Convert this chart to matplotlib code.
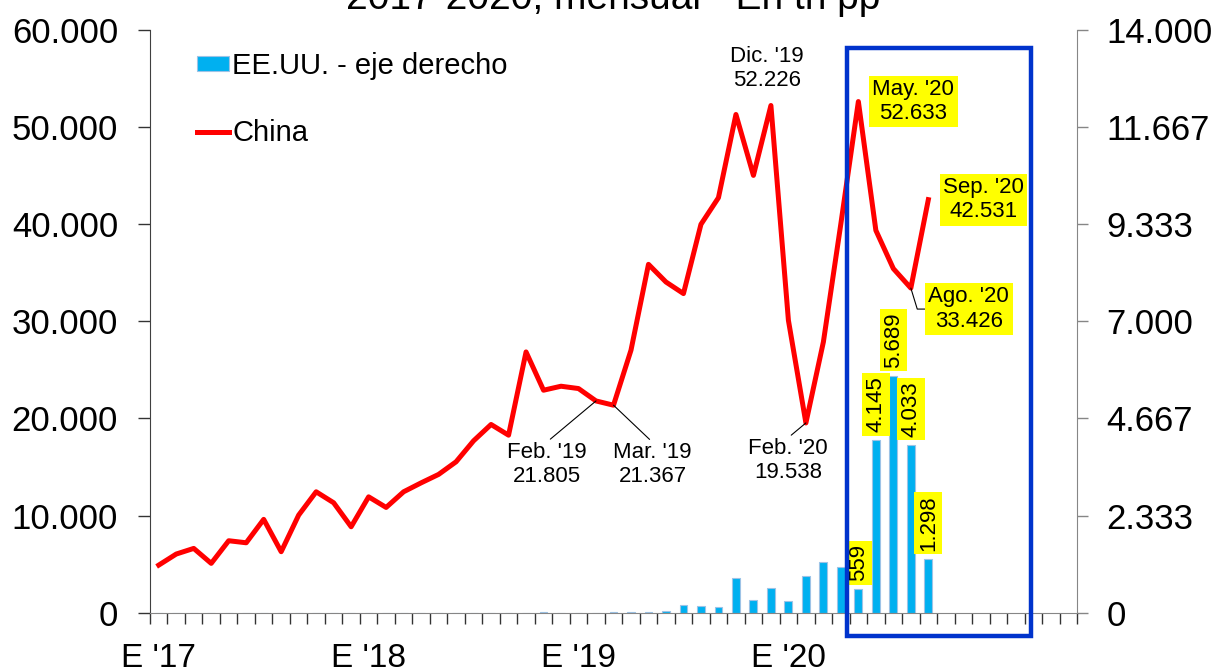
import numpy as np
import matplotlib.pyplot as plt
from matplotlib.patches import Rectangle
from matplotlib.ticker import FuncFormatter

plt.rcParams['font.family'] = ['Liberation Sans', 'DejaVu Sans']

# eje: meses de ene-2017 a may-2021, datos hasta sep-2020
n_meses = 53

# China (eje izquierdo)
china = [4900, 6040, 6620, 5080, 7410, 7200, 9610, 6280, 10050, 12450, 11320, 8850,
         11930, 10840, 12450, 13370, 14240, 15540, 17700, 19380, 18280, 26850, 22910, 23320,
         23080, 21805, 21367, 27030, 35870, 34050, 32860, 39990, 42730, 51300, 45030, 52226,
         30110, 19538, 27880, 40060, 52633, 39370, 35430, 33426, 42531]

# EE.UU. (eje derecho)
eeuu = [0, 0, 0, 0, 0, 0, 0, 0, 0, 0, 0, 0,
        0, 0, 0, 0, 0, 0, 0, 0, 0, 0, 15, 0,
        0, 0, 15, 15, 20, 45, 184, 160, 136, 833, 296, 600,
        280, 880, 1225, 1088, 559, 4145, 5689, 4033, 1298]

etiquetas_x = ["E '17", "E '18", "E '19", "E '20"]
pos_etiquetas = [0, 12, 24, 36]

# notas sobre la linea de China: mes, texto, desplazamiento (px), alineacion, caja amarilla, conector
notas_china = [
    (25, "Feb. '19\n21.805", (-49, -41), 'top', False, (0.5, 1), 'arc3'),
    (26, "Mar. '19\n21.367", (39, -37), 'top', False, (0.5, 1), 'arc3'),
    (37, "Feb. '20\n19.538", (-18, -15), 'top', False, (0.5, 1), 'arc3'),
    (35, "Dic. '19\n52.226", (-4, 14), 'bottom', False, None, None),
    (40, "May. '20\n52.633", (55, 0), 'center', True, None, None),
    (44, "Sep. '20\n42.531", (55, 0), 'center', True, None, None),
    (43, "Ago. '20\n33.426", (58, -21), 'center', True, (0, 0.5),
     'angle,angleA=0,angleB=-73,rad=0'),
]
meses_etiqueta_barra = [40, 41, 42, 43, 44]

miles = FuncFormatter(lambda v, p: f'{v:,.0f}'.replace(',', '.'))

fig = plt.figure(figsize=(12.17, 6.70), dpi=100)
ax = fig.add_axes([150 / 1217, 57.3 / 670, 927 / 1217, 582.7 / 670])
ax2 = ax.twinx()
ax.set_zorder(ax2.get_zorder() + 1)
ax.patch.set_visible(False)

x = np.arange(len(china))
barras = ax2.bar(np.arange(len(eeuu)), eeuu, width=0.45, color='#00B0F0',
                 edgecolor='#9DC3E6', linewidth=0.8, label='EE.UU. - eje derecho')
linea, = ax.plot(x, china, color='#FF0000', lw=3.6, solid_joinstyle='round',
                 label='China')

ax.set_xlim(-0.5, n_meses - 0.5)
ax.set_ylim(0, 60000)
ax2.set_ylim(0, 14000)
ax.set_yticks(np.arange(0, 60001, 10000))
ax2.set_yticks(np.linspace(0, 14000, 7))
ax.yaxis.set_major_formatter(miles)
ax2.yaxis.set_major_formatter(miles)

ax.set_xticks(pos_etiquetas)
ax.set_xticklabels(etiquetas_x)
ax.set_xticks(np.arange(-0.5, n_meses, 1), minor=True)
ax.tick_params(axis='x', which='major', length=0, pad=22, labelsize=24)
ax.tick_params(axis='x', which='minor', length=8, width=1, color='#333333')
ax.tick_params(axis='y', length=9, width=1, color='#333333', pad=14, labelsize=25)
ax2.tick_params(axis='y', length=8, width=1, color='#868686', pad=13, labelsize=25)

for s in ['top', 'right']:
    ax.spines[s].set_visible(False)
for s in ['top', 'bottom', 'left']:
    ax2.spines[s].set_visible(False)
ax.spines['left'].set_color('#404040')
ax.spines['bottom'].set_color('#868686')
ax2.spines['right'].set_color('#868686')

for mes, texto, off, va, caja, rel, con in notas_china:
    props = dict(ha='center', va=va, fontsize=16, linespacing=1.2,
                 textcoords='offset pixels', xytext=off, zorder=6)
    if caja:
        props['bbox'] = dict(boxstyle='square,pad=0.15', fc='#FFFF00', ec='none')
    if rel is not None:
        props['arrowprops'] = dict(arrowstyle='-', color='black', lw=0.8,
                                   shrinkA=0, shrinkB=0, relpos=rel,
                                   connectionstyle=con)
    ax.annotate(texto, xy=(mes, china[mes]), **props)

for mes in meses_etiqueta_barra:
    v = eeuu[mes]
    ax2.annotate(f'{v:,.0f}'.replace(',', '.'), xy=(mes, v), xytext=(0, 8),
                 textcoords='offset pixels', rotation=90, ha='center', va='bottom',
                 fontsize=16, bbox=dict(boxstyle='square,pad=0.15', fc='#FFFF00', ec='none'))

# recuadro azul que destaca 2020
ax.add_patch(Rectangle((39.33, -2400), 10.56, 60500, fill=False, ec='#0033CC',
                       lw=3.2, clip_on=False, zorder=7))

ax.legend([barras, linea], ['EE.UU. - eje derecho', 'China'], loc='upper left',
          bbox_to_anchor=(197 / 1217, 1 - 52 / 670), bbox_transform=fig.transFigure,
          frameon=False, fontsize=21, handlelength=1.1, handleheight=0.45,
          handletextpad=0.1, labelspacing=1.35, borderpad=0, borderaxespad=0)

fig.text(613 / 1217, 1 - 9 / 670, '2017-2020, mensual - En th pp', ha='center',
         va='baseline', fontsize=28)

fig.savefig('out.png', dpi=100)
